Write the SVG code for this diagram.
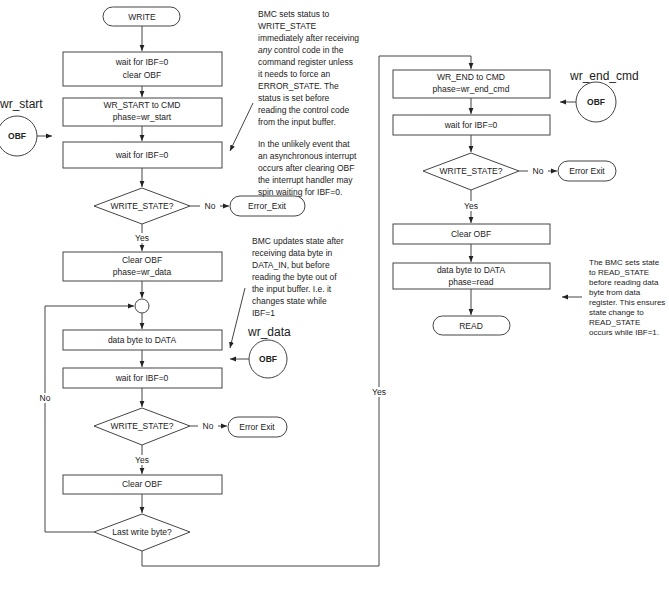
<svg xmlns="http://www.w3.org/2000/svg" width="669" height="609" viewBox="0 0 669 609">
<defs>
<marker id="a" viewBox="0 0 10 10" refX="10" refY="5" markerWidth="6" markerHeight="6" orient="auto"><path d="M0,1 L10,5 L0,9 z" fill="#222"/></marker>
<style>
.s{fill:#fff;stroke:#444;stroke-width:1}
.c{fill:none;stroke:#444;stroke-width:1}
text{font-family:"Liberation Sans",Arial,sans-serif;font-size:8.5px;fill:#222}
.m{text-anchor:middle}
.b{font-weight:bold}
.l{font-size:12px}
.n3 text{font-size:8px}
</style>
</defs>
<rect width="669" height="609" fill="#fff"/>
<g id="connectors" class="c">
<path d="M142,26V51" marker-end="url(#a)"/>
<path d="M142,86V97" marker-end="url(#a)"/>
<path d="M142,126V141" marker-end="url(#a)"/>
<path d="M142,168V187" marker-end="url(#a)"/>
<path d="M190,206H229" marker-end="url(#a)"/>
<path d="M142,224V251" marker-end="url(#a)"/>
<path d="M142,281V298" marker-end="url(#a)"/>
<path d="M142,313V329" marker-end="url(#a)"/>
<path d="M142,350V367" marker-end="url(#a)"/>
<path d="M142,388V407" marker-end="url(#a)"/>
<path d="M190,426H227" marker-end="url(#a)"/>
<path d="M142,445V474" marker-end="url(#a)"/>
<path d="M142,494V513" marker-end="url(#a)"/>
<path d="M94,532H45V306H134" marker-end="url(#a)"/>
<path d="M142,551V566H379V56H471V69" marker-end="url(#a)"/>
<path d="M471,98V114" marker-end="url(#a)"/>
<path d="M471,135V152" marker-end="url(#a)"/>
<path d="M519,171H557" marker-end="url(#a)"/>
<path d="M471,190V223" marker-end="url(#a)"/>
<path d="M471,244V262" marker-end="url(#a)"/>
<path d="M471,289V315" marker-end="url(#a)"/>
<path d="M37,136H52" marker-end="url(#a)"/>
<path d="M249,359H230" marker-end="url(#a)"/>
<path d="M576,102H560" marker-end="url(#a)"/>
<path d="M253,103L230,151" marker-end="url(#a)"/>
<path d="M245,288L230,348" marker-end="url(#a)"/>
<path d="M582,297H562" marker-end="url(#a)"/>
</g>
<g fill="#fff">
<rect x="200" y="201" width="20" height="10"/><text x="210" y="209" class="m">No</text>
<rect x="198" y="421" width="20" height="10"/><text x="208" y="429" class="m">No</text>
<rect x="528" y="166" width="20" height="10"/><text x="538" y="174" class="m">No</text>
<rect x="130" y="233" width="24" height="10"/><text x="142" y="241" class="m">Yes</text>
<rect x="130" y="455" width="24" height="10"/><text x="142" y="463" class="m">Yes</text>
<rect x="459" y="201" width="24" height="10"/><text x="471" y="209" class="m">Yes</text>
<rect x="35" y="393" width="20" height="10"/><text x="45" y="401" class="m">No</text>
<rect x="367" y="387" width="24" height="10"/><text x="379" y="395" class="m">Yes</text>
</g>
<g id="write"><rect class="s" x="103" y="7" width="77" height="19" rx="9.5"/><text x="142" y="19.5" class="m">WRITE</text></g>
<g id="b1"><rect class="s" x="63" y="52" width="159" height="34"/><text x="142" y="65" class="m">wait for IBF=0</text><text x="142" y="78" class="m">clear OBF</text></g>
<g id="b2"><rect class="s" x="63" y="98" width="159" height="28"/><text x="142" y="108" class="m">WR_START to CMD</text><text x="142" y="120" class="m">phase=wr_start</text></g>
<g id="b3"><rect class="s" x="63" y="142" width="159" height="26"/><text x="142" y="158" class="m">wait for IBF=0</text></g>
<g id="d1"><polygon class="s" points="142,188 190,206 142,224 94,206"/><text x="142" y="209" class="m">WRITE_STATE?</text></g>
<g id="e1"><rect class="s" x="230" y="196" width="75" height="20" rx="10"/><text x="267" y="209" class="m">Error_Exit</text></g>
<g id="b4"><rect class="s" x="63" y="252" width="159" height="29"/><text x="142" y="263" class="m">Clear OBF</text><text x="142" y="275" class="m">phase=wr_data</text></g>
<g id="j"><circle class="s" cx="142" cy="306" r="7"/></g>
<g id="b5"><rect class="s" x="63" y="330" width="159" height="20"/><text x="142" y="343" class="m">data byte to DATA</text></g>
<g id="b6"><rect class="s" x="63" y="368" width="159" height="20"/><text x="142" y="381" class="m">wait for IBF=0</text></g>
<g id="d2"><polygon class="s" points="142,408 190,426 142,445 94,426"/><text x="142" y="429" class="m">WRITE_STATE?</text></g>
<g id="e2"><rect class="s" x="228" y="417" width="59" height="20" rx="10"/><text x="257" y="430" class="m">Error Exit</text></g>
<g id="b7"><rect class="s" x="63" y="475" width="159" height="19"/><text x="142" y="487" class="m">Clear OBF</text></g>
<g id="d3"><polygon class="s" points="142,514 190,532 142,551 94,532"/><text x="142" y="535" class="m">Last write byte?</text></g>
<g id="wr_start"><circle class="s" cx="17" cy="136" r="20"/><text x="17" y="139" class="m b">OBF</text><text x="0" y="108" class="l">wr_start</text></g>
<g id="wr_data"><circle class="s" cx="268" cy="359" r="19"/><text x="268" y="362" class="m b">OBF</text><text x="248" y="336" class="l">wr_data</text></g>
<g id="b8"><rect class="s" x="393" y="70" width="157" height="28"/><text x="471" y="80" class="m">WR_END to CMD</text><text x="471" y="92" class="m">phase=wr_end_cmd</text></g>
<g id="wr_end_cmd"><circle class="s" cx="596" cy="102" r="20"/><text x="596" y="105" class="m b">OBF</text><text x="570" y="80" class="l">wr_end_cmd</text></g>
<g id="b9"><rect class="s" x="393" y="115" width="157" height="20"/><text x="471" y="128" class="m">wait for IBF=0</text></g>
<g id="d4"><polygon class="s" points="471,153 519,171 471,190 423,171"/><text x="471" y="174" class="m">WRITE_STATE?</text></g>
<g id="e3"><rect class="s" x="558" y="161" width="58" height="20" rx="10"/><text x="587" y="174" class="m">Error Exit</text></g>
<g id="b10"><rect class="s" x="393" y="224" width="157" height="20"/><text x="471" y="237" class="m">Clear OBF</text></g>
<g id="b11"><rect class="s" x="393" y="263" width="157" height="26"/><text x="471" y="273" class="m">data byte to DATA</text><text x="471" y="285" class="m">phase=read</text></g>
<g id="read"><rect class="s" x="433" y="316" width="77" height="19" rx="9.5"/><text x="471" y="328.5" class="m">READ</text></g>
<g id="note1">
<text x="258" y="17">BMC sets status to</text>
<text x="258" y="29">WRITE_STATE</text>
<text x="258" y="41">immediately after receiving</text>
<text x="258" y="53"><tspan font-style="italic">any</tspan> control code in the</text>
<text x="258" y="65">command register unless</text>
<text x="258" y="77">it needs to force an</text>
<text x="258" y="89">ERROR_STATE. The</text>
<text x="258" y="101">status is set before</text>
<text x="258" y="113">reading the control code</text>
<text x="258" y="125">from the input buffer.</text>
<text x="258" y="147">In the unlikely event that</text>
<text x="258" y="159">an asynchronous interrupt</text>
<text x="258" y="171">occurs after clearing OBF</text>
<text x="258" y="183">the interrupt handler may</text>
<text x="258" y="195">spin waiting for IBF=0.</text>
</g>
<g id="note2">
<text x="252" y="244">BMC updates state after</text>
<text x="252" y="256">receiving data byte in</text>
<text x="252" y="268">DATA_IN, but before</text>
<text x="252" y="280">reading the byte out of</text>
<text x="252" y="292">the input buffer. I.e. it</text>
<text x="252" y="304">changes state while</text>
<text x="252" y="316">IBF=1</text>
</g>
<g id="note3" class="n3">
<text x="589" y="265">The BMC sets state</text>
<text x="589" y="275">to READ_STATE</text>
<text x="589" y="285">before reading data</text>
<text x="589" y="295">byte from data</text>
<text x="589" y="305">register. This ensures</text>
<text x="589" y="315">state change to</text>
<text x="589" y="325">READ_STATE</text>
<text x="589" y="335">occurs while IBF=1.</text>
</g>
</svg>
